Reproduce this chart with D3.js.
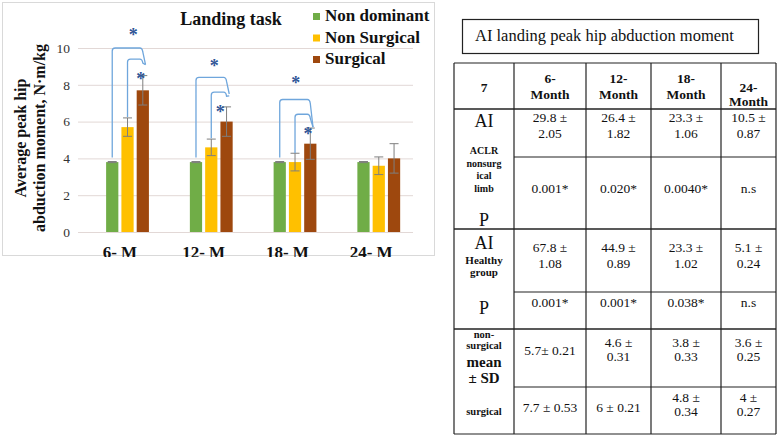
<!DOCTYPE html>
<html>
<head>
<meta charset="utf-8">
<script src="https://cdn.jsdelivr.net/npm/d3@7"></script>
<style>
  body { margin: 0; background: #fff; }
  svg { display: block; }
</style>
</head>
<body>
<script>
// ---- chart data ----
const categories = ["6- M", "12- M", "18- M", "24- M"];
const seriesNames = ["Non dominant", "Non Surgical", "Surgical"];
const colors = ["#70AD47", "#FFC000", "#9E480E"];
const nonDominant = [3.8, 3.8, 3.8, 3.8];
const nonSurgical = [5.7, 4.6, 3.8, 3.6];
const surgical = [7.7, 6.0, 4.8, 4.0];
const nonDominantErr = [0.03, 0.03, 0.03, 0.03];
const nonSurgicalErr = [0.5, 0.45, 0.48, 0.48];
const surgicalErr = [0.8, 0.8, 0.85, 0.8];
const yTicks = [0, 2, 4, 6, 8, 10];

// significance brackets (series index from -> to, values in N·m/kg)
const brackets = [
  {cat: "6- M", from: 0, to: 2, base: 4.05, top: 10, end: 9.1},
  {cat: "6- M", from: 1, to: 2, base: 6.25, top: 9.4, end: 9.1},
  {cat: "12- M", from: 0, to: 2, base: 4.05, top: 8.4, end: 7.5},
  {cat: "12- M", from: 1, to: 2, base: 5.1, top: 7.6, end: 7.4},
  {cat: "18- M", from: 0, to: 2, base: 4.05, top: 7.2, end: 5.7},
  {cat: "18- M", from: 1, to: 2, base: 4.3, top: 6.4, end: 5.7}
];
// asterisks: slot = position in bar slots (1 = first series), value = height
const stars = [
  {cat: "6- M", slot: 2.38, value: 10.85},
  {cat: "6- M", slot: 2.86, value: 8.5},
  {cat: "12- M", slot: 2.2, value: 9.2},
  {cat: "12- M", slot: 2.58, value: 6.68},
  {cat: "18- M", slot: 2.05, value: 8.28},
  {cat: "18- M", slot: 2.85, value: 5.5}
];

// ---- table data ----
const tableTitle = "AI landing peak hip abduction moment";
const tableHead = ["7", "6-\nMonth", "12-\nMonth", "18-\nMonth", "24-\nMonth"];
const aclrAI = ["29.8 ±\n2.05", "26.4 ±\n1.82", "23.3 ±\n1.06", "10.5 ±\n0.87"];
const aclrP = ["0.001*", "0.020*", "0.0040*", "n.s"];
const healthyAI = ["67.8 ±\n1.08", "44.9 ±\n0.89", "23.3 ±\n1.02", "5.1 ±\n0.24"];
const healthyP = ["0.001*", "0.001*", "0.038*", "n.s"];
const nonSurgicalSD = ["5.7± 0.21", "4.6 ±\n0.31", "3.8 ±\n0.33", "3.6 ±\n0.25"];
const surgicalSD = ["7.7 ± 0.53", "6 ± 0.21", "4.8 ±\n0.34", "4 ±\n0.27"];

const serif = '"Liberation Serif", "Times New Roman", serif';
const W = 778, H = 435;

const root = d3.select("body").append("svg")
    .attr("width", W)
    .attr("height", H)
    .style("font-family", serif);

// ================= chart (clipped like the pasted figure) =================
const chart = root.append("svg")
    .attr("x", 0).attr("y", 0)
    .attr("width", 437).attr("height", 257);

chart.append("rect")
    .attr("x", 2.5).attr("y", 2.5)
    .attr("width", 432).attr("height", 253)
    .attr("fill", "#fff")
    .attr("stroke", "#d9d9d9");

const y = d3.scaleLinear().domain([0, 10]).range([232, 48]);
const x = d3.scaleBand().domain(categories).range([78, 413])
    .paddingInner(0.27).paddingOuter(0.135);
// 4 slots per group, first one empty (as in the source chart)
const xs = d3.scaleBand().domain([0, 1, 2, 3]).range([0, x.bandwidth()])
    .paddingInner(0.2).paddingOuter(0.1);
const slotX = (cat, s) => x(cat) + xs(0) + xs.bandwidth() / 2 + s * xs.step();

// gridlines
chart.append("g")
    .attr("transform", "translate(78,0)")
    .call(d3.axisLeft(y).tickValues(yTicks).tickSize(-335).tickFormat(""))
    .call(g => g.select(".domain").remove())
    .call(g => g.selectAll("line").attr("stroke", "#e2d8d6"));

// tick labels
chart.append("g")
    .attr("transform", "translate(70,0)")
    .call(d3.axisLeft(y).tickValues(yTicks).tickSize(0).tickPadding(0))
    .call(g => g.select(".domain").remove())
    .call(g => g.selectAll("text")
        .attr("font-family", serif)
        .attr("font-size", 13.5)
        .attr("fill", "#333"));

// category labels
chart.append("g")
    .attr("transform", "translate(0,240)")
    .call(d3.axisBottom(x).tickSize(0).tickPadding(0))
    .call(g => g.select(".domain").remove())
    .call(g => g.selectAll("text")
        .attr("font-family", serif)
        .attr("font-size", 17)
        .attr("font-weight", "bold")
        .attr("fill", "#111")
        .attr("dy", "1.05em"));

// bars
const seriesData = [nonDominant, nonSurgical, surgical];
const seriesErr = [nonDominantErr, nonSurgicalErr, surgicalErr];
const barRows = [];
seriesData.forEach((vals, si) => vals.forEach((v, ci) => barRows.push({
  cat: categories[ci], s: si, v: v, e: seriesErr[si][ci]
})));

chart.append("g").selectAll("rect")
    .data(barRows)
    .enter().append("rect")
    .attr("x", d => x(d.cat) + xs(d.s + 1))
    .attr("y", d => y(d.v))
    .attr("width", xs.bandwidth())
    .attr("height", d => y(0) - y(d.v))
    .attr("fill", d => colors[d.s]);

// error bars
const eb = chart.append("g").attr("stroke", "#7f7f7f").attr("stroke-width", 1);
eb.selectAll("line.v")
    .data(barRows)
    .enter().append("line")
    .attr("class", "v")
    .attr("x1", d => slotX(d.cat, d.s + 1))
    .attr("x2", d => slotX(d.cat, d.s + 1))
    .attr("y1", d => y(d.v - d.e))
    .attr("y2", d => y(d.v + d.e));
[-1, 1].forEach(sign => {
  eb.selectAll("line.c" + (sign + 1))
      .data(barRows)
      .enter().append("line")
      .attr("class", "c" + (sign + 1))
      .attr("x1", d => slotX(d.cat, d.s + 1) - 4.5)
      .attr("x2", d => slotX(d.cat, d.s + 1) + 4.5)
      .attr("y1", d => y(d.v + sign * d.e))
      .attr("y2", d => y(d.v + sign * d.e));
});

// brackets
function bracketPath(d) {
  const x1 = slotX(d.cat, d.from + 1), x2 = slotX(d.cat, d.to + 1);
  const yt = y(d.top), r = 3;
  const p = d3.path();
  p.moveTo(x1, y(d.base));
  p.lineTo(x1, yt + r);
  p.quadraticCurveTo(x1, yt, x1 + r, yt);
  p.lineTo(x2 - 3, yt);
  p.quadraticCurveTo(x2 - 0.5, yt, x2, yt + 4);
  p.lineTo(x2 + 2.7, y(d.end));
  return p.toString();
}
chart.append("g").selectAll("path")
    .data(brackets)
    .enter().append("path")
    .attr("d", bracketPath)
    .attr("fill", "none")
    .attr("stroke", "#6fa6dc")
    .attr("stroke-width", 1.3);

chart.append("g").selectAll("text")
    .data(stars)
    .enter().append("text")
    .attr("x", d => slotX(d.cat, d.slot))
    .attr("y", d => y(d.value))
    .attr("dy", "0.5em")
    .attr("text-anchor", "middle")
    .attr("font-size", 18)
    .attr("font-weight", "bold")
    .attr("fill", "#2f5597")
    .text("*");

// title
chart.append("text")
    .attr("x", 231).attr("y", 25)
    .attr("text-anchor", "middle")
    .attr("font-size", 18)
    .attr("font-weight", "bold")
    .attr("fill", "#111")
    .text("Landing task");

// y axis title
const yTitle = chart.append("text")
    .attr("transform", "translate(0,138) rotate(-90)")
    .attr("text-anchor", "middle")
    .attr("font-size", 16)
    .attr("font-weight", "bold")
    .attr("fill", "#111");
yTitle.append("tspan").attr("x", 0).attr("y", 26).text("Average peak hip");
yTitle.append("tspan").attr("x", 0).attr("y", 45).text("abduction moment, N·m/kg");

// legend
const legend = chart.append("g").selectAll("g")
    .data(seriesNames)
    .enter().append("g")
    .attr("transform", (d, i) => "translate(313," + (21 + i * 21.5) + ")");
legend.append("rect")
    .attr("x", 0).attr("y", -8)
    .attr("width", 7).attr("height", 7)
    .attr("fill", (d, i) => colors[i]);
legend.append("text")
    .attr("x", 12).attr("y", 0)
    .attr("font-size", 17)
    .attr("font-weight", "bold")
    .attr("fill", "#111")
    .text(d => d);

// ================= table =================
const tbl = root.append("g").attr("fill", "#111");

tbl.append("rect")
    .attr("x", 462.5).attr("y", 19.5)
    .attr("width", 296).attr("height", 34)
    .attr("fill", "none").attr("stroke", "#222").attr("stroke-width", 1.2);
tbl.append("text")
    .attr("x", 475).attr("y", 41)
    .attr("font-size", 16.5)
    .text(tableTitle);

const colEdges = [454, 514, 586, 651, 721, 776];
const colMid = i => (colEdges[i] + colEdges[i + 1]) / 2;

// grid lines: full rows and rows starting after first column
const fullRows = [63, 109, 229, 329, 434];
const partRows = [157, 292, 387];
const lines = tbl.append("g").attr("stroke", "#222").attr("stroke-width", 1.2);
fullRows.forEach(yy => lines.append("line")
    .attr("x1", colEdges[0]).attr("x2", colEdges[5]).attr("y1", yy).attr("y2", yy)
    .attr("stroke-width", (yy === 109 || yy === 229 || yy === 329) ? 1.6 : 1.2));
partRows.forEach(yy => lines.append("line")
    .attr("x1", colEdges[1]).attr("x2", colEdges[5]).attr("y1", yy).attr("y2", yy));
colEdges.forEach(xx => lines.append("line")
    .attr("x1", xx).attr("x2", xx).attr("y1", 63).attr("y2", 434));

function cellText(col, txt, baselines, opts) {
  const parts = txt.split("\n");
  const b = parts.length === 1 ? [baselines.one] : baselines.two;
  const t = tbl.append("text")
      .attr("text-anchor", "middle")
      .attr("font-size", opts.size)
      .attr("font-weight", opts.weight || "normal");
  parts.forEach((p, i) => t.append("tspan")
      .attr("x", colMid(col)).attr("y", b[i]).text(p));
}

// header
tableHead.forEach((h, i) => cellText(i, h,
    i === 4 ? {one: 92, two: [92, 105.5]} : {one: 92, two: [83, 99]},
    {size: 13.5, weight: "bold"}));

const bodyRows = [
  {vals: aclrAI, b: {one: 125, two: [122, 138]}},
  {vals: aclrP, b: {one: 193, two: [186, 200]}},
  {vals: healthyAI, b: {one: 256, two: [252, 268]}},
  {vals: healthyP, b: {one: 307, two: [303, 317]}},
  {vals: nonSurgicalSD, b: {one: 355, two: [347, 361]}},
  {vals: surgicalSD, b: {one: 412, two: [402, 416]}}
];
bodyRows.forEach(r => r.vals.forEach((v, i) =>
    cellText(i + 1, v, r.b, {size: 13.5})));

// first column labels (merged cells)
const firstCol = [
  {t: "AI", y: 127, size: 18},
  {t: "ACLR", y: 154, size: 10, weight: "bold"},
  {t: "nonsurg", y: 166.5, size: 10, weight: "bold"},
  {t: "ical", y: 179, size: 10, weight: "bold"},
  {t: "limb", y: 191.5, size: 10, weight: "bold"},
  {t: "P", y: 226, size: 18},
  {t: "AI", y: 249, size: 18},
  {t: "Healthy", y: 264, size: 11, weight: "bold"},
  {t: "group", y: 276, size: 11, weight: "bold"},
  {t: "P", y: 314, size: 18},
  {t: "non-", y: 337.5, size: 10.5, weight: "bold"},
  {t: "surgical", y: 349, size: 10.5, weight: "bold"},
  {t: "mean", y: 367, size: 15, weight: "bold"},
  {t: "± SD", y: 383, size: 15, weight: "bold"},
  {t: "surgical", y: 415, size: 10.5, weight: "bold"}
];
tbl.append("g").selectAll("text")
    .data(firstCol)
    .enter().append("text")
    .attr("x", colMid(0))
    .attr("y", d => d.y)
    .attr("text-anchor", "middle")
    .attr("font-size", d => d.size)
    .attr("font-weight", d => d.weight || "normal")
    .text(d => d.t);
</script>
</body>
</html>
